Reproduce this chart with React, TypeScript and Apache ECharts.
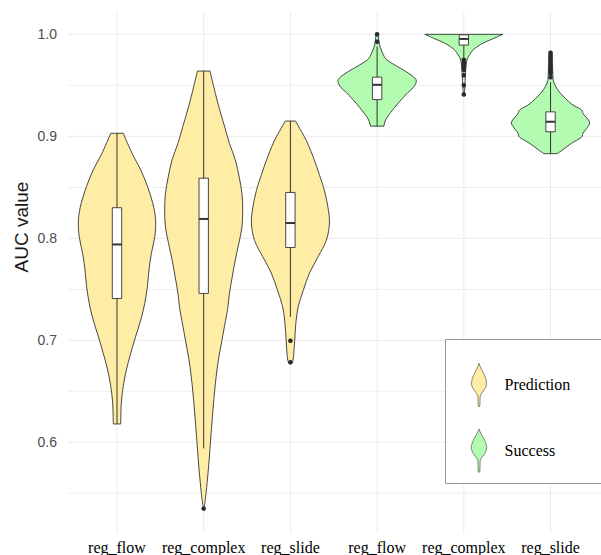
import React, { useEffect, useRef } from "react";
import * as echarts from "echarts";

// ---------- data ----------
const categories = ["reg_flow", "reg_complex", "reg_slide", "reg_flow", "reg_complex", "reg_slide"];
const groupNames = ["Prediction", "Success"];
const groupOfCategory = [0, 0, 0, 1, 1, 1];
const groupColors = ["#FFECA5", "#B3FBB0"];

// violin outlines: AUC levels (top to bottom) and relative half-widths (max = 1)
const predFlowLevels = [0.903, 0.883, 0.867, 0.851, 0.834, 0.818, 0.802, 0.785, 0.769, 0.753, 0.736, 0.72, 0.704, 0.687, 0.671, 0.655, 0.638, 0.618];
const predFlowWidths = [0.16, 0.39, 0.61, 0.78, 0.92, 0.99, 0.97, 0.88, 0.82, 0.78, 0.71, 0.61, 0.48, 0.35, 0.24, 0.16, 0.11, 0.095];

const predComplexLevels = [0.964, 0.942, 0.926, 0.909, 0.893, 0.877, 0.86, 0.844, 0.828, 0.811, 0.795, 0.779, 0.762, 0.746, 0.73, 0.707, 0.674, 0.642, 0.609, 0.576, 0.55, 0.535];
const predComplexWidths = [0.16, 0.3, 0.41, 0.54, 0.66, 0.81, 0.91, 0.98, 1.0, 0.98, 0.9, 0.81, 0.73, 0.66, 0.61, 0.5, 0.35, 0.26, 0.19, 0.125, 0.06, 0.01];

const predSlideLevels = [0.915, 0.905, 0.895, 0.885, 0.875, 0.866, 0.857, 0.847, 0.831, 0.815, 0.798, 0.782, 0.766, 0.749, 0.733, 0.717, 0.7, 0.684, 0.678];
const predSlideWidths = [0.13, 0.28, 0.42, 0.53, 0.63, 0.71, 0.79, 0.87, 0.96, 1.0, 0.92, 0.71, 0.49, 0.33, 0.2, 0.14, 0.11, 0.08, 0.05];

const succFlowLevels = [1.0, 0.99, 0.98, 0.975, 0.97, 0.963, 0.957, 0.953, 0.948, 0.943, 0.936, 0.926, 0.917, 0.91];
const succFlowWidths = [0.03, 0.06, 0.16, 0.25, 0.45, 0.76, 0.97, 1.0, 0.93, 0.79, 0.62, 0.4, 0.23, 0.17];

const succComplexLevels = [1.0, 0.998, 0.996, 0.993, 0.99, 0.987, 0.984, 0.98, 0.976, 0.97, 0.96, 0.95, 0.941];
const succComplexWidths = [1.0, 0.88, 0.77, 0.58, 0.43, 0.31, 0.22, 0.15, 0.09, 0.06, 0.04, 0.03, 0.01];

const succSlideLevels = [0.983, 0.97, 0.96, 0.955, 0.949, 0.942, 0.932, 0.926, 0.922, 0.914, 0.908, 0.903, 0.899, 0.893, 0.887, 0.883];
const succSlideWidths = [0.03, 0.05, 0.06, 0.07, 0.13, 0.26, 0.53, 0.79, 0.84, 1.0, 0.93, 0.83, 0.79, 0.53, 0.32, 0.17];

const violinLevels = [predFlowLevels, predComplexLevels, predSlideLevels, succFlowLevels, succComplexLevels, succSlideLevels];
const violinWidths = [predFlowWidths, predComplexWidths, predSlideWidths, succFlowWidths, succComplexWidths, succSlideWidths];

// box plot statistics
const q1 = [0.741, 0.746, 0.791, 0.936, 0.9895, 0.9045];
const medians = [0.794, 0.819, 0.815, 0.9505, 0.9955, 0.9143];
const q3 = [0.83, 0.859, 0.845, 0.958, 0.9995, 0.924];
const whiskerLow = [0.618, 0.594, 0.723, 0.91, 0.977, 0.883];
const whiskerHigh = [0.903, 0.964, 0.915, 0.988, 1.0, 0.953];
const outliers = [
  [],
  [0.535],
  [0.6996, 0.6784],
  [1.0, 0.9928],
  [0.975, 0.973, 0.971, 0.969, 0.967, 0.965, 0.96, 0.95, 0.941],
  [0.982, 0.9795, 0.977, 0.9745, 0.9715, 0.968, 0.965, 0.962, 0.958],
];

const yMajorTicks = [0.6, 0.7, 0.8, 0.9, 1.0];
const yMinorTicks = [0.55, 0.65, 0.75, 0.85, 0.95];
const xPositions = [1, 2, 3, 4, 5, 6];

// ---------- styles ----------
const OUTLINE = "#333333";
const VIOLIN_HALF = 0.45;
const BOX_HALF = 0.054;

const predIcon =
  "path://M7.5,0 C9.5,7 15,13 15,20 C15,26 9.5,29 8.6,33 L8.3,43 L6.7,43 L6.4,33 C5.5,29 0,26 0,20 C0,13 5.5,7 7.5,0 Z";
const succIcon =
  "path://M7.5,0 C9.5,6 15,12 15,18 C15,24 9.5,27 8.6,31 L8.3,42 L6.7,42 L6.4,31 C5.5,27 0,24 0,18 C0,12 5.5,6 7.5,0 Z";

function smoothSegments(pts: number[][]): string {
  let d = "";
  for (let k = 0; k < pts.length - 1; k++) {
    const p0 = pts[Math.max(k - 1, 0)];
    const p1 = pts[k];
    const p2 = pts[k + 1];
    const p3 = pts[Math.min(k + 2, pts.length - 1)];
    const c1x = p1[0] + (p2[0] - p0[0]) / 6;
    const c1y = p1[1] + (p2[1] - p0[1]) / 6;
    const c2x = p2[0] - (p3[0] - p1[0]) / 6;
    const c2y = p2[1] - (p3[1] - p1[1]) / 6;
    d += ` C${c1x},${c1y} ${c2x},${c2y} ${p2[0]},${p2[1]}`;
  }
  return d;
}

function renderViolin(params: any, api: any) {
  const pos = api.value(0);
  const i = Math.round(pos) - 1;
  const lv = violinLevels[i];
  const wd = violinWidths[i];
  const right = lv.map((v, k) => api.coord([pos + wd[k] * VIOLIN_HALF, v]));
  const left = lv.map((v, k) => api.coord([pos - wd[k] * VIOLIN_HALF, v])).reverse();
  const d =
    `M${right[0][0]},${right[0][1]}` +
    smoothSegments(right) +
    ` L${left[0][0]},${left[0][1]}` +
    smoothSegments(left) +
    " Z";
  const fill = groupColors[groupOfCategory[i]];
  const cx = api.coord([pos, 0.8])[0];
  const bl = api.coord([pos - BOX_HALF, q3[i]]);
  const br = api.coord([pos + BOX_HALF, q1[i]]);
  const yMed = api.coord([pos, medians[i]])[1];
  const yLo = api.coord([pos, whiskerLow[i]])[1];
  const yHi = api.coord([pos, whiskerHigh[i]])[1];
  const children: any[] = [
    { type: "path", shape: { pathData: d }, style: { fill, stroke: OUTLINE, lineWidth: 0.9 } },
    { type: "line", shape: { x1: cx, y1: yHi, x2: cx, y2: yLo }, style: { stroke: OUTLINE, lineWidth: 1 } },
    {
      type: "rect",
      shape: { x: bl[0], y: bl[1], width: br[0] - bl[0], height: br[1] - bl[1] },
      style: { fill: "#ffffff", stroke: OUTLINE, lineWidth: 0.9 },
    },
    { type: "line", shape: { x1: bl[0], y1: yMed, x2: br[0], y2: yMed }, style: { stroke: OUTLINE, lineWidth: 2 } },
  ];
  outliers[i].forEach((v) => {
    const p = api.coord([pos, v]);
    children.push({ type: "circle", shape: { cx: p[0], cy: p[1], r: 2.3 }, style: { fill: "#2b2b2b" } });
  });
  return { type: "group", children };
}

function renderGrid(params: any, api: any) {
  const cs = params.coordSys;
  const children: any[] = [];
  yMinorTicks.forEach((v) => {
    const y = api.coord([1, v])[1];
    children.push({ type: "line", shape: { x1: cs.x, y1: y, x2: cs.x + cs.width, y2: y }, style: { stroke: "#efefef", lineWidth: 1 } });
  });
  yMajorTicks.forEach((v) => {
    const y = api.coord([1, v])[1];
    children.push({ type: "line", shape: { x1: cs.x, y1: y, x2: cs.x + cs.width, y2: y }, style: { stroke: "#ebebeb", lineWidth: 1 } });
  });
  xPositions.forEach((p) => {
    const x = api.coord([p, 0.8])[0];
    children.push({ type: "line", shape: { x1: x, y1: cs.y, x2: x, y2: cs.y + cs.height }, style: { stroke: "#ebebeb", lineWidth: 1 } });
  });
  return { type: "group", children };
}

export default function App() {
  const ref = useRef<HTMLDivElement>(null);
  useEffect(() => {
    if (!ref.current) return;
    const chart = echarts.init(ref.current, undefined, { renderer: "svg" });
    const option: any = {
      animation: false,
      backgroundColor: "#ffffff",
      grid: { left: 68, right: 0, top: 12, bottom: 22, containLabel: false, outerBoundsMode: "none" },
      xAxis: {
        type: "value",
        min: 0.435,
        max: 6.582,
        axisLine: { show: false },
        axisTick: { show: false },
        splitLine: { show: false },
        axisLabel: {
          customValues: xPositions,
          formatter: (v: number) => categories[Math.round(v) - 1] || "",
          fontFamily: "Liberation Serif",
          fontSize: 16,
          color: "#000000",
          margin: 6,
        },
      },
      yAxis: {
        type: "value",
        min: 0.5111,
        max: 1.0219,
        axisLine: { show: false },
        axisTick: { show: false },
        splitLine: { show: false },
        axisLabel: {
          customValues: yMajorTicks,
          formatter: (v: number) => v.toFixed(1),
          fontFamily: "Liberation Sans",
          fontSize: 14,
          color: "#4d4d4d",
          margin: 11,
        },
      },
      legend: {
        left: 445,
        top: 339,
        z: 6,
        orient: "vertical",
        padding: [24, 20, 13, 26],
        itemWidth: 41,
        itemHeight: 43,
        itemGap: 22,
        borderWidth: 0,
        selectedMode: false,
        textStyle: { fontFamily: "Liberation Serif", fontSize: 16, color: "#000000" },
        data: [
          { name: groupNames[0], icon: predIcon, itemStyle: { color: groupColors[0], borderColor: "#555555", borderWidth: 0.7 } },
          { name: groupNames[1], icon: succIcon, itemStyle: { color: groupColors[1], borderColor: "#555555", borderWidth: 0.7 } },
        ],
      },
      graphic: [
        {
          type: "rect",
          z: 5,
          silent: true,
          shape: { x: 445.5, y: 339.5, width: 200, height: 144 },
          style: { fill: "#ffffff", stroke: "#999999", lineWidth: 1 },
        },
        {
          type: "text",
          x: 21,
          y: 227,
          rotation: Math.PI / 2,
          style: {
            text: "AUC value",
            font: '19px "Liberation Sans"',
            fill: "#1a1a1a",
            align: "center",
            verticalAlign: "middle",
          },
        },
      ],
      series: [
        {
          type: "custom",
          name: "grid",
          silent: true,
          z: 1,
          renderItem: renderGrid,
          data: [[1, 0.8]],
        },
        {
          type: "custom",
          name: groupNames[0],
          z: 2,
          itemStyle: { color: groupColors[0] },
          renderItem: renderViolin,
          data: xPositions.filter((_, i) => groupOfCategory[i] === 0).map((p) => [p, medians[p - 1]]),
        },
        {
          type: "custom",
          name: groupNames[1],
          z: 2,
          itemStyle: { color: groupColors[1] },
          renderItem: renderViolin,
          data: xPositions.filter((_, i) => groupOfCategory[i] === 1).map((p) => [p, medians[p - 1]]),
        },
      ],
    };
    chart.setOption(option);
    return () => chart.dispose();
  }, []);
  return (
    <div
      ref={ref}
      style={{ position: "absolute", left: 0, top: 0, width: 601, height: 555, background: "#ffffff" }}
    />
  );
}
